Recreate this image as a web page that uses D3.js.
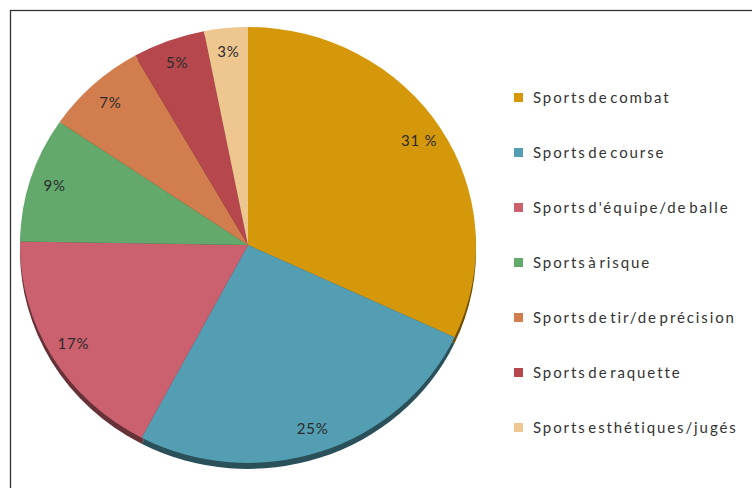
<!DOCTYPE html>
<html>
<head>
<meta charset="utf-8">
<script src="https://cdn.jsdelivr.net/npm/d3@7"></script>
<style>
  body { margin: 0; background: #fff; }
  svg { display: block; }
</style>
</head>
<body>
<div id="chart-container"></div>
<script>
// Chart data (percentages as printed on the slices)
const categories = [
  "Sports de combat",
  "Sports de course",
  "Sports d'équipe/de balle",
  "Sports à risque",
  "Sports de tir/de précision",
  "Sports de raquette",
  "Sports esthétiques/jugés"
];
const values = [31, 25, 17, 9, 7, 5, 3];
const colors = ["#d6980b", "#539eb2", "#cb606e", "#62a96b", "#d27d4d", "#b5474d", "#eec690"];

const width = 752;
const height = 488;
const cx = 248, cy = 245;
const rx = 228, ry = 218;

const svg = d3.select("#chart-container")
  .append("svg")
    .attr("width", width)
    .attr("height", height);

// frame (cut off on the right and bottom)
svg.append("rect")
  .attr("x", 10.5)
  .attr("y", 10.5)
  .attr("width", 760)
  .attr("height", 500)
  .attr("fill", "none")
  .attr("stroke", "#333")
  .attr("stroke-width", 1.3);

const pie = d3.pie().sort(null).value(d => d);
const arcs = pie(values);

const arc = d3.arc().innerRadius(0).outerRadius(1);

// pie is slightly squashed, drawn in unit coordinates then scaled
const shadow = svg.append("g")
  .attr("transform", `translate(${cx},${cy + 6}) scale(${rx},${ry})`);

shadow.selectAll("path")
  .data(arcs)
  .join("path")
  .attr("d", arc)
  .attr("fill", (d, i) => d3.color(colors[i]).darker(1.9));

const g = svg.append("g")
  .attr("transform", `translate(${cx},${cy}) scale(${rx},${ry})`);

g.selectAll("path")
  .data(arcs)
  .join("path")
  .attr("d", arc)
  .attr("fill", (d, i) => colors[i]);

// slice labels
const labelArc = d3.arc().innerRadius(0.89).outerRadius(0.89);
svg.selectAll(".slice-label")
  .data(arcs)
  .join("text")
  .attr("class", "slice-label")
  .attr("x", d => cx + labelArc.centroid(d)[0] * rx)
  .attr("y", d => cy + labelArc.centroid(d)[1] * ry)
  .attr("dy", "0.35em")
  .attr("text-anchor", "middle")
  .style("font-family", "Lato, sans-serif")
  .style("font-size", "15px")
  .style("letter-spacing", "0.8px")
  .style("fill", "#2b2b2b")
  .text((d, i) => i === 0 ? values[i] + " %" : values[i] + "%");

// legend
const legend = svg.append("g")
  .attr("transform", "translate(514,98)");

const item = legend.selectAll("g")
  .data(categories)
  .join("g")
  .attr("transform", (d, i) => `translate(0,${i * 55})`);

item.append("rect")
  .attr("x", 0)
  .attr("y", -5)
  .attr("width", 9)
  .attr("height", 9)
  .attr("fill", (d, i) => colors[i]);

item.append("text")
  .attr("x", 19)
  .attr("y", 0)
  .attr("dy", "0.35em")
  .style("font-family", "Lato, sans-serif")
  .style("font-size", "15px")
  .style("letter-spacing", "1.9px")
  .style("word-spacing", "-4px")
  .style("fill", "#333")
  .text(d => d);
</script>
</body>
</html>
